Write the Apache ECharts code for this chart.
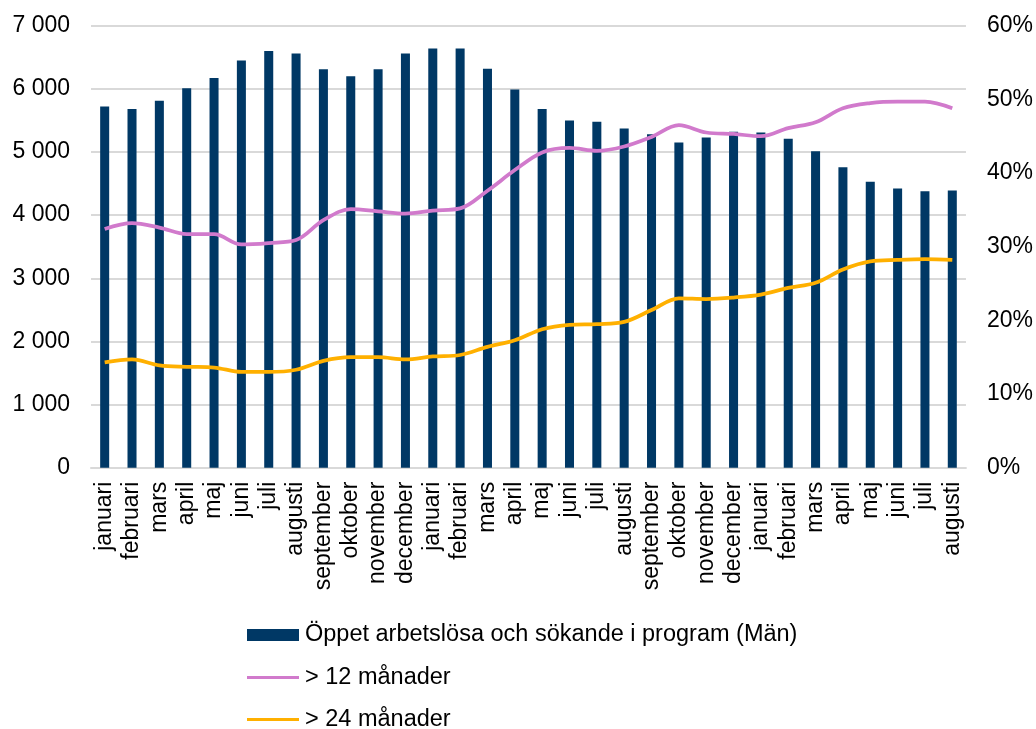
<!DOCTYPE html>
<html>
<head>
<meta charset="utf-8">
<script src="https://cdn.jsdelivr.net/npm/echarts@6/dist/echarts.min.js"></script>
<style>
html,body{margin:0;padding:0;background:#fff;}
#chart{width:1036px;height:729px;}
</style>
</head>
<body>
<div id="chart"></div>
<script>
const categories = ['januari','februari','mars','april','maj','juni','juli','augusti','september','oktober','november','december',
  'januari','februari','mars','april','maj','juni','juli','augusti','september','oktober','november','december',
  'januari','februari','mars','april','maj','juni','juli','augusti'];
const barValues = [5720,5680,5810,6010,6170,6450,6600,6560,6310,6200,6310,6560,
  6640,6640,6320,5990,5680,5500,5480,5370,5280,5150,5230,5320,
  5310,5210,5010,4760,4530,4420,4380,4390];
const over12 = [32.4,33.2,32.6,31.7,31.7,30.3,30.5,30.9,33.6,35.1,34.8,34.5,
  34.9,35.2,37.6,40.4,42.8,43.4,43.0,43.6,44.9,46.5,45.5,45.3,
  45.0,46.1,46.9,48.8,49.5,49.7,49.7,48.8];
const over24 = [14.3,14.7,13.9,13.7,13.6,13.0,13.0,13.3,14.5,15.0,15.0,14.7,
  15.1,15.3,16.4,17.3,18.8,19.4,19.5,19.8,21.4,23.0,22.9,23.1,
  23.5,24.4,25.1,26.9,28.0,28.2,28.3,28.2];
const seriesNames = ['Öppet arbetslösa och sökande i program (Män)','> 12 månader','> 24 månader'];

const chart = echarts.init(document.getElementById('chart'));
const font = 'Liberation Sans, Arial, sans-serif';
const legText = {fontSize:23.5,color:'#000',fontFamily:font,lineHeight:24,padding:[0,0,0,1]};
function leg(name, top, h, color){
  return {orient:'vertical', left:247, top:top, padding:0,
    itemWidth:52, itemHeight:h, selectedMode:false,
    textStyle:legText,
    data:[{name:name, icon:'rect', itemStyle:{color:color}}]};
}
chart.setOption({
  animation:false,
  textStyle:{fontFamily:font},
  grid:{left:91,right:70,top:25.7,bottom:261.3,containLabel:false},
  legend:[
    leg(seriesNames[0], 623, 12, '#003865'),
    leg(seriesNames[1], 665.5, 3, '#D17ACC'),
    leg(seriesNames[2], 707.5, 3, '#FFB000')
  ],
  xAxis:{
    type:'category', data:categories,
    axisLine:{show:true,lineStyle:{color:'#d9d9d9',width:2}},
    axisTick:{show:false},
    axisLabel:{rotate:90,fontSize:23,color:'#000',margin:14,interval:0,fontFamily:font}
  },
  yAxis:[
    {type:'value',min:0,max:7000,interval:1000,
     axisLabel:{fontSize:23,color:'#000',margin:21,fontFamily:font,
       formatter:v=>v===0?'0':String(v).replace(/\B(?=(\d{3})+(?!\d))/g,' ')},
     splitLine:{lineStyle:{color:'#d9d9d9',width:2}},
     axisLine:{show:false},axisTick:{show:false}},
    {type:'value',min:0,max:60,interval:10,position:'right',
     axisLabel:{fontSize:23,color:'#000',margin:21,fontFamily:font,formatter:'{value}%'},
     splitLine:{show:false},axisLine:{show:false},axisTick:{show:false}}
  ],
  series:[
    {name:seriesNames[0],type:'bar',data:barValues,barWidth:'33%',
     itemStyle:{color:'#003865'}},
    {name:seriesNames[1],type:'line',yAxisIndex:1,data:over12,smooth:0.35,symbol:'none',
     lineStyle:{color:'#D17ACC',width:3.75},itemStyle:{color:'#D17ACC'}},
    {name:seriesNames[2],type:'line',yAxisIndex:1,data:over24,smooth:0.35,symbol:'none',
     lineStyle:{color:'#FFB000',width:3.75},itemStyle:{color:'#FFB000'}}
  ]
});
</script>
</body>
</html>
